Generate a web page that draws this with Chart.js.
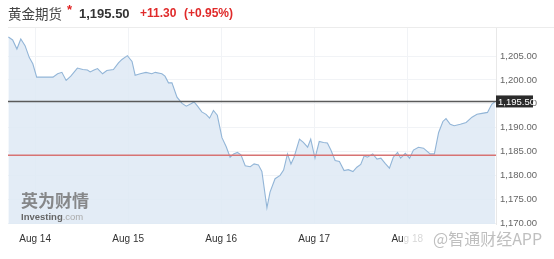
<!DOCTYPE html>
<html lang="zh">
<head>
  <meta charset="UTF-8">
  <title>黄金期货</title>
  <script src="https://cdn.jsdelivr.net/npm/chart.js"></script>
  <style>
    html, body { margin: 0; padding: 0; background: #fff; }
    canvas { display: block; }
  </style>
</head>
<body>
  <canvas id="goldChart" width="554" height="259"></canvas>

  <script>
    // hours since Aug 14 00:00, and price at that time
    const hours = [-6.9, -5.8, -4.7, -3.7, -2.6, -1.5, -0.6, 0.4, 4.6, 5.8, 6.9, 8.0, 9.2, 10.9, 12.3, 13.5, 14.2, 15.2, 16.1, 17.4, 18.5, 20.2, 21.5, 22.4, 23.8, 25.0, 25.8, 27.1, 28.6, 30.1, 31.0, 32.7, 33.5, 34.4, 35.3, 36.6, 37.9, 39.0, 40.2, 41.0, 41.9, 43.0, 44.1, 45.0, 46.0, 47.0, 48.2, 49.3, 50.3, 51.2, 52.2, 53.1, 54.2, 55.5, 56.5, 57.6, 58.5, 59.8, 60.6, 61.9, 63.2, 64.1, 65.1, 66.0, 66.8, 68.2, 69.2, 70.3, 71.1, 72.2, 73.3, 74.4, 75.4, 76.3, 77.4, 78.5, 79.7, 80.8, 82.0, 83.0, 84.0, 84.9, 85.7, 87.1, 88.2, 89.2, 90.3, 91.4, 92.4, 93.5, 94.3, 95.5, 96.6, 97.6, 98.9, 100.2, 101.9, 103.0, 104.1, 105.2, 106.0, 107.1, 108.1, 109.7, 111.2, 112.7, 114.0, 115.3, 116.7, 117.8, 118.7];
    const prices = [1209.0, 1208.4, 1206.5, 1208.6, 1207.2, 1204.7, 1203.4, 1200.6, 1200.6, 1201.3, 1201.6, 1199.9, 1200.8, 1202.5, 1202.2, 1202.1, 1201.7, 1202.1, 1202.4, 1201.3, 1202.0, 1202.2, 1203.6, 1204.3, 1205.1, 1203.9, 1201.0, 1201.3, 1201.6, 1201.3, 1201.6, 1201.3, 1200.8, 1199.4, 1199.4, 1196.4, 1195.1, 1194.5, 1195.0, 1195.4, 1194.5, 1193.3, 1192.8, 1192.0, 1193.6, 1192.6, 1187.9, 1186.0, 1183.8, 1184.5, 1184.8, 1184.3, 1182.0, 1181.8, 1182.4, 1182.2, 1180.8, 1173.2, 1176.5, 1179.3, 1180.0, 1181.1, 1184.5, 1182.4, 1183.8, 1187.6, 1186.9, 1185.9, 1187.6, 1183.6, 1187.1, 1186.9, 1186.8, 1185.3, 1183.1, 1182.9, 1181.0, 1181.2, 1180.8, 1181.7, 1182.3, 1184.1, 1183.8, 1184.5, 1183.4, 1183.6, 1182.5, 1181.5, 1183.8, 1184.8, 1183.6, 1184.6, 1183.6, 1185.3, 1185.9, 1185.7, 1184.5, 1184.5, 1189.0, 1191.3, 1191.9, 1190.7, 1190.4, 1190.7, 1191.1, 1192.2, 1192.8, 1193.0, 1193.2, 1194.9, 1195.5];

    const dayTicks = [0, 24, 48, 72, 96];
    const dayLabels = ['Aug 14', 'Aug 15', 'Aug 16', 'Aug 17', 'Aug 18'];
    const yTicks = [1170, 1175, 1180, 1185, 1190, 1195, 1200, 1205];

    const title = '黄金期货';
    const lastPrice = 1195.50;
    const prevClose = 1184.20;
    const changeText = '+11.30';
    const pctText = '(+0.95%)';

    const xMin = -7.0, xMax = 118.9;
    const fmt = v => v.toLocaleString('en-US', { minimumFractionDigits: 2, maximumFractionDigits: 2 });

    const extras = {
      id: 'extras',
      beforeDraw(chart) {
        const ctx = chart.ctx;
        ctx.save();
        ctx.fillStyle = '#fff';
        ctx.fillRect(0, 0, chart.width, chart.height);
        ctx.textBaseline = 'middle';
        ctx.font = '13.5px "Noto Sans CJK SC"';
        ctx.fillStyle = '#444';
        ctx.fillText(title, 8, 14);
        ctx.font = 'bold 13px Arial';
        ctx.fillStyle = '#e02020';
        ctx.fillText('*', 67, 10);
        ctx.fillStyle = '#333';
        ctx.fillText(fmt(lastPrice), 79, 14);
        ctx.font = 'bold 12px Arial';
        ctx.fillStyle = '#e02a2a';
        ctx.fillText(changeText, 140, 14);
        ctx.fillText(pctText, 184, 14);
        ctx.strokeStyle = '#ececec';
        ctx.lineWidth = 1;
        ctx.beginPath();
        ctx.moveTo(8, 27.5);
        ctx.lineTo(554, 27.5);
        ctx.stroke();
        ctx.restore();
      },
      afterDatasetsDraw(chart) {
        const ctx = chart.ctx;
        const area = chart.chartArea;
        const y = chart.scales.y.getPixelForValue(lastPrice);
        ctx.save();
        // watermark left
        ctx.textBaseline = 'middle';
        ctx.font = 'bold 17px "Noto Sans CJK SC"';
        ctx.fillStyle = 'rgba(110,110,110,0.8)';
        ctx.fillText('英为财情', 21, 201);
        ctx.font = 'bold 9.5px Arial';
        ctx.fillStyle = '#666';
        ctx.fillText('Investing', 21, 217);
        const w = ctx.measureText('Investing').width;
        ctx.font = '9.5px Arial';
        ctx.fillStyle = '#aaa';
        ctx.fillText('.com', 21 + w, 217);
        // price box
        ctx.fillStyle = '#2b2b2b';
        ctx.fillRect(area.right, y - 6, 37, 12);
        ctx.font = '9.5px Arial';
        ctx.fillStyle = '#fff';
        ctx.fillText(fmt(lastPrice), area.right + 2, y + 0.5);
        ctx.restore();
      },
      afterDraw(chart) {
        const ctx = chart.ctx;
        ctx.save();
        // the app watermark sits over the last date label
        ctx.fillStyle = 'rgba(255,255,255,0.8)';
        ctx.fillRect(403, 230, 151, 18);
        ctx.textBaseline = 'middle';
        ctx.font = '16px "Noto Sans CJK SC"';
        ctx.fillStyle = 'rgba(175,175,175,0.8)';
        ctx.fillText('@智通财经APP', 433, 239);
        ctx.restore();
      }
    };

    new Chart(document.getElementById('goldChart'), {
      type: 'line',
      data: {
        datasets: [
          {
            data: hours.map((h, i) => ({ x: h, y: prices[i] })),
            borderColor: '#92b5d7',
            borderWidth: 1.1,
            backgroundColor: 'rgba(222,233,244,0.85)',
            fill: 'start',
            pointRadius: 0,
            tension: 0,
            order: 2
          },
          {
            data: [{ x: xMin, y: lastPrice }, { x: xMax, y: lastPrice }],
            borderColor: '#5a5a5a',
            borderWidth: 1.5,
            pointRadius: 0,
            fill: false,
            order: 1
          },
          {
            data: [{ x: xMin, y: prevClose }, { x: xMax, y: prevClose }],
            borderColor: '#d77373',
            borderWidth: 1.5,
            pointRadius: 0,
            fill: false,
            order: 1
          }
        ]
      },
      options: {
        responsive: false,
        animation: false,
        layout: { padding: { left: 8, top: 28, right: 0, bottom: 0 } },
        plugins: { legend: { display: false }, tooltip: { enabled: false } },
        scales: {
          x: {
            type: 'linear',
            min: xMin,
            max: xMax,
            afterBuildTicks: s => { s.ticks = dayTicks.map(v => ({ value: v })); },
            afterFit: s => { s.height = 35; },
            ticks: {
              callback: (v) => dayLabels[dayTicks.indexOf(v)],
              font: { family: 'Arial', size: 10 },
              color: '#333',
              padding: 9,
              maxRotation: 0,
              autoSkip: false
            },
            grid: { color: '#f1f3f6', drawTicks: false },
            border: { display: false }
          },
          y: {
            position: 'right',
            min: 1169.8,
            max: 1210.9,
            afterBuildTicks: s => { s.ticks = yTicks.map(v => ({ value: v })); },
            afterFit: s => { s.width = 58; },
            ticks: {
              callback: v => fmt(v),
              font: { family: 'Arial', size: 9.5 },
              color: '#666',
              padding: 4
            },
            grid: { color: '#f1f3f6', drawTicks: false },
            border: { display: true, color: '#e8e8e8' }
          }
        }
      },
      plugins: [extras]
    });
  </script>
</body>
</html>
